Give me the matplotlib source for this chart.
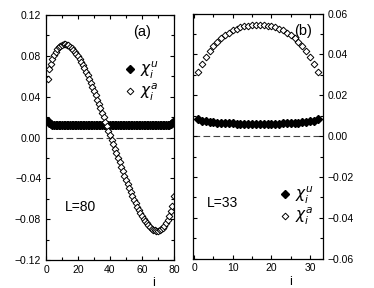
import matplotlib
matplotlib.use("Agg")
import matplotlib.pyplot as plt
from matplotlib.ticker import MultipleLocator

plt.rcParams['font.family'] = ['Liberation Sans', 'DejaVu Sans']
plt.rcParams['mathtext.fontset'] = 'dejavusans'

# panel (a), L=80
sites_a = list(range(1, 81))
chi_half_a = [0.0577, 0.0670, 0.0723, 0.0768, 0.0806, 0.0838, 0.0864, 0.0884, 0.0899, 0.0909,
              0.0914, 0.0914, 0.0910, 0.0902, 0.0891, 0.0877, 0.0860, 0.0840, 0.0818, 0.0794,
              0.0768, 0.0740, 0.0710, 0.0678, 0.0644, 0.0609, 0.0572, 0.0534, 0.0495, 0.0455,
              0.0414, 0.0372, 0.0329, 0.0286, 0.0242, 0.0198, 0.0154, 0.0110, 0.0066, 0.0022]
chi_a = chi_half_a + [-v for v in chi_half_a[::-1]]
chiu_half_a = [0.0158, 0.0142, 0.0133, 0.0127, 0.0124, 0.0122, 0.0121, 0.0120, 0.0119, 0.0119,
               0.0118, 0.0118, 0.0118, 0.0118, 0.0118, 0.0118, 0.0118, 0.0118, 0.0118, 0.0118,
               0.0118, 0.0118, 0.0118, 0.0118, 0.0118, 0.0118, 0.0118, 0.0118, 0.0118, 0.0118,
               0.0118, 0.0118, 0.0118, 0.0118, 0.0118, 0.0118, 0.0118, 0.0118, 0.0118, 0.0118]
chiu_a = chiu_half_a + chiu_half_a[::-1]

# panel (b), L=33
sites_b = list(range(1, 33))
chi_half_b = [0.0314, 0.0355, 0.0388, 0.0415, 0.0440, 0.0461, 0.0479, 0.0494, 0.0507, 0.0518,
              0.0526, 0.0532, 0.0537, 0.0540, 0.0542, 0.0543]
chi_b = chi_half_b + chi_half_b[::-1]
chiu_half_b = [0.0082, 0.0076, 0.0072, 0.0069, 0.0067, 0.0065, 0.0064, 0.0063, 0.0062, 0.0062,
               0.0061, 0.0061, 0.0061, 0.0061, 0.0061, 0.0061]
chiu_b = chiu_half_b + chiu_half_b[::-1]

lab_u = r'$\chi^{u}_{i}$'
lab_s = r'$\chi^{a}_{i}$'

fig = plt.figure(figsize=(3.74, 2.88), dpi=100)
ax1 = fig.add_axes([0.123, 0.097, 0.342, 0.851])
ax2 = fig.add_axes([0.516, 0.102, 0.348, 0.851])

for ax in (ax1, ax2):
    ax.tick_params(direction='in', which='both', top=True, bottom=True, left=True, right=True,
                   labelsize=7.5, length=3, width=0.8)
    ax.tick_params(which='minor', length=2)
    for s in ax.spines.values():
        s.set_linewidth(0.9)
    ax.axhline(0, color='#444444', ls=(0, (6, 3)), lw=0.8, zorder=1)

# (a)
ax1.plot(sites_a, chiu_a, ls='none', marker='D', ms=3.7, color='black', label=lab_u)
ax1.plot(sites_a, chi_a, ls='none', marker='D', ms=3.4, mfc='white', mec='black', mew=0.7, label=lab_s)
ax1.set_xlim(0, 80)
ax1.set_ylim(-0.12, 0.12)
ax1.xaxis.set_major_locator(MultipleLocator(20))
ax1.xaxis.set_minor_locator(MultipleLocator(10))
ax1.yaxis.set_major_locator(MultipleLocator(0.04))
ax1.yaxis.set_minor_locator(MultipleLocator(0.02))
ax1.set_yticklabels([f'{v:.2f}'.replace('-', '\u2212') for v in ax1.get_yticks()])
ax1.text(0.68, 0.93, '(a)', transform=ax1.transAxes, fontsize=10.5, va='center')
ax1.text(0.15, 0.215, 'L=80', transform=ax1.transAxes, fontsize=10, va='center')
ax1.text(0.84, -0.095, 'i', transform=ax1.transAxes, fontsize=9, ha='center', va='center')
ax1.legend(loc='center left', bbox_to_anchor=(0.62, 0.73), frameon=False, fontsize=11,
           handlelength=0.6, handletextpad=0.35, labelspacing=0.05, borderaxespad=0, borderpad=0)

# (b)
ax2.plot(sites_b, chiu_b, ls='none', marker='D', ms=3.7, color='black', label=lab_u)
ax2.plot(sites_b, chi_b, ls='none', marker='D', ms=3.4, mfc='white', mec='black', mew=0.7, label=lab_s)
ax2.set_xlim(-0.3, 33.4)
ax2.set_ylim(-0.06, 0.06)
ax2.xaxis.set_major_locator(MultipleLocator(10))
ax2.xaxis.set_minor_locator(MultipleLocator(5))
ax2.yaxis.set_major_locator(MultipleLocator(0.02))
ax2.yaxis.set_minor_locator(MultipleLocator(0.01))
ax2.yaxis.tick_right()
ax2.tick_params(which='both', left=True, right=True)
ax2.set_yticklabels([f'{v:.2f}'.replace('-', '\u2212') for v in ax2.get_yticks()])
ax2.text(0.78, 0.93, '(b)', transform=ax2.transAxes, fontsize=10.5, va='center')
ax2.text(0.11, 0.225, 'L=33', transform=ax2.transAxes, fontsize=10, va='center')
ax2.text(0.75, -0.095, 'i', transform=ax2.transAxes, fontsize=9, ha='center', va='center')
ax2.legend(loc='center left', bbox_to_anchor=(0.67, 0.215), frameon=False, fontsize=11,
           handlelength=0.6, handletextpad=0.35, labelspacing=0.05, borderaxespad=0, borderpad=0)

fig.savefig('out.png', dpi=100)
